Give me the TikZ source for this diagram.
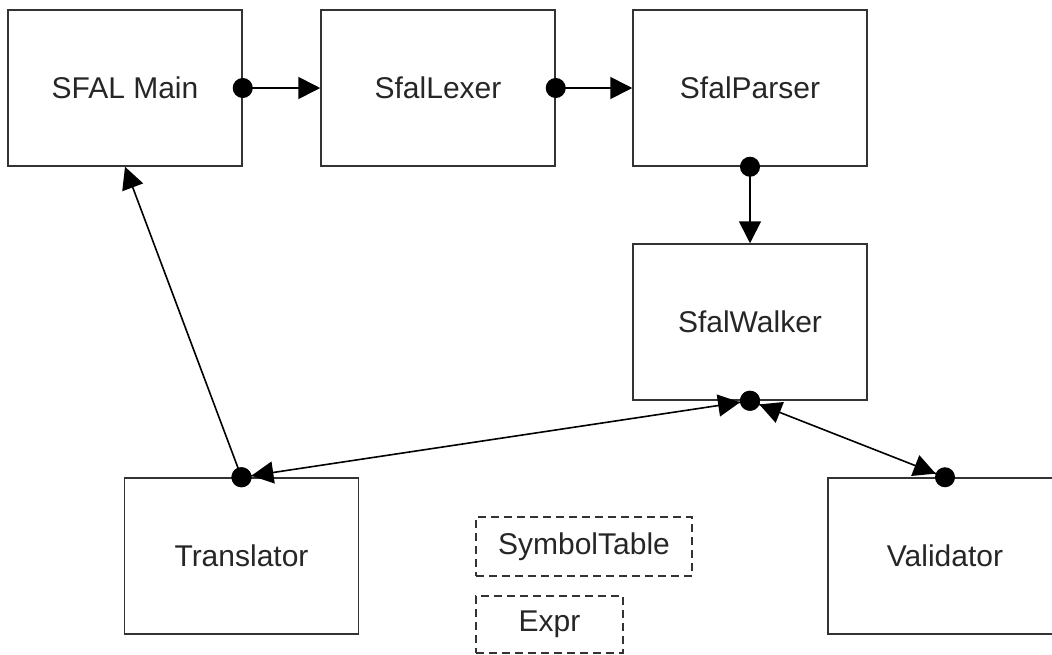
\documentclass[tikz,border=0pt]{standalone}
\usepackage{fontspec}
\setmainfont{Liberation Sans}
\usetikzlibrary{arrows.meta}

\colorlet{edge}{black!80}
\colorlet{txt}{black!85}

\tikzset{
  block/.style={draw=edge, line width=1.5pt, minimum width=234pt, minimum height=156pt,
    inner sep=0pt, text=txt, font=\fontsize{30}{36}\selectfont},
  aux/.style={draw=edge, line width=1.5pt, dash pattern=on 8pt off 5pt, inner sep=0pt,
    text=txt, font=\fontsize{30}{36}\selectfont},
  link/.style={line width=1.6pt, shorten <=-10pt},
  twoway/.style={line width=1.6pt, shorten <=-10pt, shorten >=-10pt}
}

\begin{document}
\begin{tikzpicture}[x=1pt, y=-1pt,
  dot/.tip={Circle[length=20pt]},
  head/.tip={Triangle[length=22pt, width=22pt]}]
  \useasboundingbox (0,0) rectangle (1052,654);
  \draw (125, 88)    node[block] (main) {SFAL Main};
  \draw (438, 88)    node[block] (lexer) {SfalLexer};
  \draw (750, 88)    node[block] (parser) {SfalParser};
  \draw (750, 322)   node[block] (walker) {SfalWalker};
  \draw (241.5, 556) node[block] (trans) {Translator};
  \draw (945, 556)   node[block] (valid) {Validator};
  \draw (584, 546.5) node[aux, minimum width=216pt, minimum height=59pt] (symtab) {SymbolTable};
  \draw (549.5, 624.5) node[aux, minimum width=147pt, minimum height=57pt] (expr) {Expr};
  % calls
  \draw[link, {dot}-{head}] (main) -- (lexer);
  \draw[link, {dot}-{head}] (lexer) -- (parser);
  \draw[link, {dot}-{head}] (parser) -- (walker);
  \draw[link, {dot}-{head}] (trans.north) -- (main.south);
  % walker to back ends
  \draw[twoway, {dot[sep=0pt]head}-{head[sep=0pt]dot}] (walker.south) -- (trans.north);
  \draw[twoway, {dot[sep=0pt]head}-{head[sep=0pt]dot}] (walker.south) -- (valid.north);
\end{tikzpicture}
\end{document}
